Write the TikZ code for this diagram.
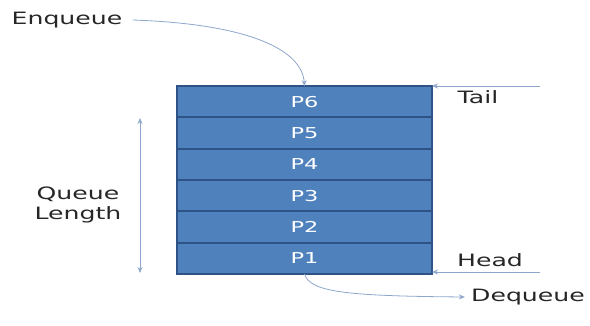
\documentclass[tikz,border=0pt]{standalone}
\usepackage{fontspec}
\setmainfont{DejaVu Sans}
\usetikzlibrary{positioning,arrows.meta}
\definecolor{qblue}{HTML}{4F81BD}
\definecolor{qedge}{HTML}{2F5387}
\definecolor{qline}{HTML}{8EA6CC}
\definecolor{qtext}{HTML}{262626}
\tikzset{
  cell/.style={draw=qedge,fill=qblue,line width=1.9pt,minimum width=170pt,minimum height=31.3pt,inner sep=0pt,outer sep=0pt,text=white,font=\fontsize{15}{15}\selectfont,xscale=1.5},
  lbl/.style={text=qtext,font=\fontsize{17}{20}\selectfont,xscale=1.48,inner sep=0pt},
  conn/.style={draw=qline,line width=0.8pt,-{Stealth[length=6pt,width=5pt]}}
}
\begin{document}
\begin{tikzpicture}[x=1pt,y=-1pt]
\useasboundingbox (0,0) rectangle (590,326);

\node[cell] (p1) at (304.5,258.3) {P1};
\foreach \i [remember=\i as \j (initially 1)] in {2,...,6}
  \node[cell,above=0pt of p\j] (p\i) {P\i};

\node[lbl] (enq) at (67,20) {Enqueue};
\node[lbl] (tail) at (478,97) {Tail};
\node[lbl] (head) at (490,260) {Head};
\node[lbl] (deq) at (528,297) {Dequeue};
\node[lbl,align=center] (qlen) at (78,205) {Queue\\Length};

\coordinate (tailend) at (540,86);
\coordinate (headend) at (540,272);
\coordinate (qtop) at (140,118);
\coordinate (qbot) at (140,273);

\draw[conn] (enq.east) ++(10,0) .. controls (250,24) and (302,50) .. (p6.north);
\draw[conn] (tailend) -- (p6.north east |- tailend);
\draw[conn] (headend) -- (p1.south east |- headend);
\draw[conn] (p1.south) .. controls (310,292) and (345,296) .. ([xshift=-6pt]deq.west);
\draw[conn,{Stealth[length=6pt,width=5pt]}-{Stealth[length=6pt,width=5pt]}] (qtop) -- (qbot);

\end{tikzpicture}
\end{document}
